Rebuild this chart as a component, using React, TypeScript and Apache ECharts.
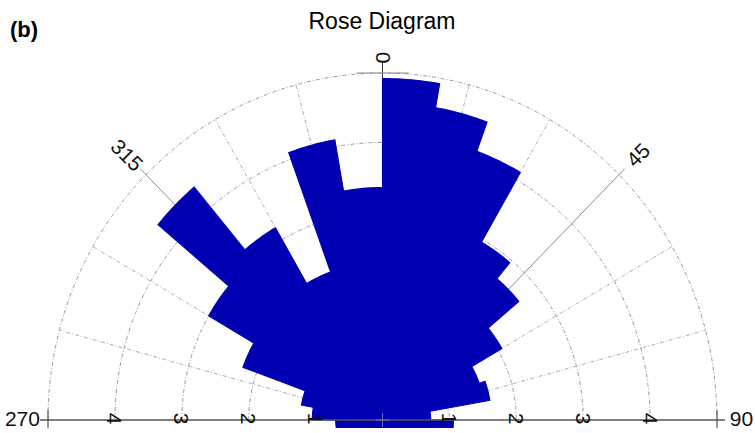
import React, { useEffect, useRef } from "react";
import * as echarts from "echarts";

// ---- data ----
// 10-degree bins, compass angles (clockwise from north). The lower half mirrors the upper half
// (axial data); only a thin strip of it is visible below the 270-90 line.
const binStartDeg = [
  0, 10, 20, 30, 40, 50, 60, 70, 80, 90, 100, 110, 120, 130, 140, 150, 160, 170,
  180, 190, 200, 210, 220, 230, 240, 250, 260, 270, 280, 290, 300, 310, 320, 330, 340, 350,
];
const binValues = [
  4.92, 4.57, 4.12, 2.96, 2.66, 2.06, 1.54, 1.63, 0.72, 1.06, 1.23, 2.22, 3.0, 4.38, 3.2, 2.27, 4.1, 3.35,
  4.92, 4.57, 4.12, 2.96, 2.66, 2.06, 1.54, 1.63, 0.7, 1.05, 1.23, 2.22, 3.0, 4.38, 3.2, 2.27, 4.1, 3.35,
];
const ringValues = [1, 2, 3, 4, 5];
const radialTickValues = [1, 2, 3, 4];
const radialTickTexts = ["1", "2", "3", "4"];
const spokeAngles = [270, 285, 300, 315, 330, 345, 0, 15, 30, 45, 60, 75, 90];
const angleLabelValues = [270, 315, 0, 45, 90];
const angleLabelTexts = ["270", "315", "0", "45", "90"];
const titleText = "Rose Diagram";
const panelText = "(b)";

const BIN_WIDTH = 10;
const R_MAX = 5;
const FONT = "'Liberation Sans', Arial, Helvetica, sans-serif";
const BAR_COLOR = "#0000b2";

const rad = (d: number) => (d * Math.PI) / 180;
const polar = (r: number, deg: number) => [r * Math.sin(rad(deg)), r * Math.cos(rad(deg))];

export default function App() {
  const ref = useRef<HTMLDivElement>(null);

  useEffect(() => {
    const chart = echarts.init(ref.current as HTMLDivElement, null, { renderer: "svg" });

    const option: any = {
      animation: false,
      backgroundColor: "#ffffff",
      grid: { left: 48, right: 38, top: 73, bottom: 5 },
      xAxis: { type: "value", min: -5, max: 5, show: false },
      yAxis: { type: "value", min: -0.1153, max: 5, show: false },
      graphic: [
        {
          type: "text",
          x: 382,
          y: 21,
          style: { text: titleText, font: `23px ${FONT}`, fill: "#000", align: "center", verticalAlign: "middle" },
        },
        {
          type: "text",
          x: 10,
          y: 29,
          style: { text: panelText, font: `bold 22px ${FONT}`, fill: "#000", align: "left", verticalAlign: "middle" },
        },
      ],
      series: [
        // rings
        {
          type: "custom",
          z: 1,
          silent: true,
          data: ringValues.map((r) => [r, 0]),
          renderItem: (_p: any, api: any) => {
            const r = api.value(0);
            const pts: number[][] = [];
            for (let a = -90; a <= 90; a += 1.5) pts.push(api.coord(polar(r, a)));
            return {
              type: "polyline",
              shape: { points: pts },
              style: { stroke: "#9c9c9c", lineWidth: 1, fill: "none", lineDash: [4, 2, 1, 2] },
            };
          },
        },
        // spokes
        {
          type: "custom",
          z: 1,
          silent: true,
          data: spokeAngles.map((a) => [a, 0]),
          renderItem: (_p: any, api: any) => {
            const a = api.value(0);
            if (a === 90 || a === 270) return null;
            const labeled = angleLabelValues.indexOf(a) >= 0;
            const end = a === 0 ? 5.16 : labeled ? 5.12 : R_MAX;
            const p0 = api.coord([0, 0]);
            const p1 = api.coord(polar(end, a));
            return {
              type: "line",
              shape: { x1: p0[0], y1: p0[1], x2: p1[0], y2: p1[1] },
              style: labeled
                ? { stroke: a === 0 ? "#333" : "#8c8c8c", lineWidth: 1 }
                : { stroke: "#a4a4a4", lineWidth: 0.9, lineDash: [4, 2, 1, 2] },
            };
          },
        },
        // rose wedges
        {
          type: "custom",
          z: 2,
          silent: true,
          clip: true,
          data: binStartDeg.map((s, i) => [s, binValues[i]]),
          renderItem: (_p: any, api: any) => {
            const start = api.value(0);
            const r = api.value(1);
            const pts: number[][] = [api.coord([0, 0])];
            const steps = 12;
            for (let i = 0; i <= steps; i++) pts.push(api.coord(polar(r, start + (BIN_WIDTH * i) / steps)));
            return {
              type: "polygon",
              shape: { points: pts },
              style: { fill: BAR_COLOR, stroke: BAR_COLOR, lineWidth: 1.1, lineJoin: "miter" },
            };
          },
        },
        // axis line, end ticks, top tick, centre cross
        {
          type: "custom",
          z: 3,
          silent: true,
          data: [[0, 0]],
          renderItem: (_p: any, api: any) => {
            const c = api.coord([0, 0]);
            const l = api.coord([-5.12, 0]);
            const rr = api.coord([5.12, 0]);
            const t1 = api.coord([-5, 0.144]);
            const t2 = api.coord([-5, -0.115]);
            const t3 = api.coord([5, 0.144]);
            const t4 = api.coord([5, -0.115]);
            const top1 = api.coord([-0.39, 5]);
            const top2 = api.coord([0.39, 5]);
            return {
              type: "group",
              children: [
                { type: "line", shape: { x1: l[0], y1: l[1], x2: rr[0], y2: rr[1] }, style: { stroke: "#555", lineWidth: 1.6 } },
                { type: "line", shape: { x1: t1[0], y1: t1[1], x2: t2[0], y2: t2[1] }, style: { stroke: "#555", lineWidth: 1.2 } },
                { type: "line", shape: { x1: t3[0], y1: t3[1], x2: t4[0], y2: t4[1] }, style: { stroke: "#555", lineWidth: 1.2 } },
                { type: "line", shape: { x1: top1[0], y1: top1[1], x2: top2[0], y2: top2[1] }, style: { stroke: "#8a8a8a", lineWidth: 1 } },
                { type: "line", shape: { x1: c[0] - 7, y1: c[1], x2: c[0] + 7, y2: c[1] }, style: { stroke: "#6a6ab8", lineWidth: 1 } },
                { type: "line", shape: { x1: c[0], y1: c[1] - 7, x2: c[0], y2: c[1] + 7 }, style: { stroke: "#6a6ab8", lineWidth: 1 } },
              ],
            };
          },
        },
        // radial tick labels (both sides of the centre)
        {
          type: "custom",
          z: 4,
          silent: true,
          data: radialTickValues.map((v, i) => [v, i]),
          renderItem: (_p: any, api: any) => {
            const v = api.value(0);
            const txt = radialTickTexts[api.value(1)];
            const children = [-1, 1].map((s) => {
              const p = api.coord([s * v, 0]);
              return {
                type: "text",
                x: p[0],
                y: p[1] - 1.5,
                rotation: -Math.PI / 2,
                style: { text: txt, font: `21px ${FONT}`, fill: "#111", align: "center", verticalAlign: "middle" },
              };
            });
            return { type: "group", children };
          },
        },
        // angle labels
        {
          type: "custom",
          z: 4,
          silent: true,
          data: angleLabelValues.map((a, i) => [a, i]),
          renderItem: (_p: any, api: any) => {
            const a = api.value(0);
            const txt = angleLabelTexts[api.value(1)];
            if (a === 270 || a === 90) {
              const p = api.coord([a === 270 ? -5.12 : 5.19, 0]);
              return {
                type: "text",
                x: p[0],
                y: p[1] - 1,
                style: {
                  text: txt,
                  font: `21px ${FONT}`,
                  fill: "#111",
                  align: a === 270 ? "right" : "left",
                  verticalAlign: "middle",
                },
              };
            }
            const rLab = a === 0 ? 5.22 : 5.4;
            const p = api.coord(polar(rLab, a));
            let rot = 90 - a;
            if (rot < -90) rot += 180;
            return {
              type: "text",
              x: p[0],
              y: p[1],
              rotation: rad(rot),
              style: { text: txt, font: `21px ${FONT}`, fill: "#111", align: "center", verticalAlign: "middle" },
            };
          },
        },
      ],
    };

    chart.setOption(option);
    return () => chart.dispose();
  }, []);

  return (
    <div
      ref={ref}
      style={{ position: "absolute", left: 0, top: 0, width: 755, height: 433, background: "#fff" }}
    />
  );
}
